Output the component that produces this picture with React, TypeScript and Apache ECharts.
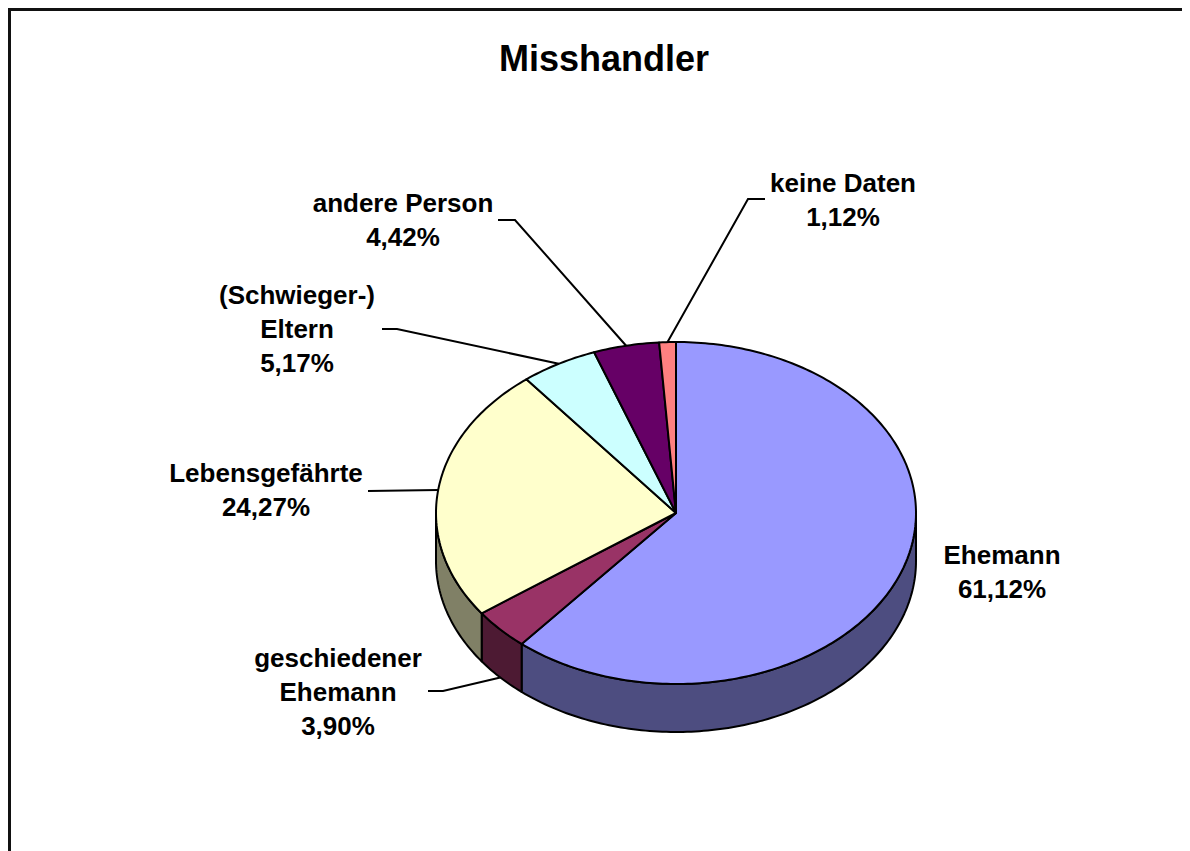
import React, { useEffect, useRef } from "react";
import * as echarts from "echarts";

const chartTitle = "Misshandler";
const categories = [
  "Ehemann",
  "geschiedener\nEhemann",
  "Lebensgefährte",
  "(Schwieger-)\nEltern",
  "andere Person",
  "keine Daten",
];
const values = [61.12, 3.9, 24.27, 5.17, 4.42, 1.12];
const topColors = ["#9999FF", "#993366", "#FFFFCC", "#CCFFFF", "#660066", "#FF8080"];
const sideColors = ["#4D4D80", "#4D1A33", "#808066", "#668080", "#330033", "#804040"];

// layout (chart-local pixels)
const CX = 668;
const CY = 505;
const RX = 240;
const RY = 171;
const DEPTH = 48;
const FONT = '"Liberation Sans", Arial, Helvetica, sans-serif';

// label block centers and leader stub points
const labelLayout: { x: number; y: number; leader: number[][] | null }[] = [
  { x: 994, y: 564, leader: null },
  { x: 330, y: 684, leader: [[420, 683], [435, 683]] },
  { x: 258, y: 482, leader: [[360, 483]] },
  { x: 289, y: 321, leader: [[374, 321], [389, 321]] },
  { x: 395, y: 212, leader: [[490, 212], [507, 212]] },
  { x: 835, y: 192, leader: [[757, 191], [740, 191]] },
];

const total = values.reduce((a, b) => a + b, 0);
const startAngles: number[] = [];
{
  let acc = -90;
  for (const v of values) {
    startAngles.push(acc);
    acc += (v / total) * 360;
  }
}

const rad = (d: number) => (d * Math.PI) / 180;
const pt = (deg: number, dy = 0) => [CX + RX * Math.cos(rad(deg)), CY + RY * Math.sin(rad(deg)) + dy];
const arc = (from: number, to: number, dy = 0) => {
  const pts: number[][] = [];
  const n = Math.max(2, Math.ceil(Math.abs(to - from) / 1));
  for (let k = 0; k <= n; k++) pts.push(pt(from + ((to - from) * k) / n, dy));
  return pts;
};
const fmt = (v: number) => v.toFixed(2).replace(".", ",") + "%";

export default function App() {
  const ref = useRef<HTMLDivElement>(null);
  useEffect(() => {
    document.documentElement.style.overflow = "hidden";
    const chart = echarts.init(ref.current!, undefined, { renderer: "svg" });
    chart.setOption({
      animation: false,
      backgroundColor: "#FFFFFF",
      graphic: [
        {
          type: "rect",
          shape: { x: 1.5, y: 1.5, width: 3000, height: 3000 },
          style: { fill: "none", stroke: "#111111", lineWidth: 3 },
          silent: true,
        },
        {
          type: "text",
          x: 596,
          y: 50,
          style: {
            text: chartTitle,
            align: "center",
            verticalAlign: "middle",
            font: `bold 36px ${FONT}`,
            fill: "#000000",
          },
        },
      ],
      series: [
        {
          type: "custom",
          coordinateSystem: "none",
          data: values.map((v, i) => ({ name: categories[i], value: [v] })),
          renderItem: (params: any, api: any) => {
            const i = params.dataIndex;
            const v = api.value(0);
            const a0 = startAngles[i];
            const a1 = a0 + (v / total) * 360;
            const children: any[] = [];
            const s = Math.max(a0, 0);
            const e = Math.min(a1, 180);
            if (e > s) {
              const sidePts = arc(s, e, 0).concat(arc(e, s, DEPTH));
              children.push({
                type: "polygon",
                z2: 1,
                shape: { points: sidePts },
                style: { fill: sideColors[i], stroke: "#000", lineWidth: 2, lineJoin: "round" },
              });
            }
            children.push({
              type: "polygon",
              z2: 5,
              shape: { points: [[CX, CY]].concat(arc(a0, a1, 0)) },
              style: { fill: topColors[i], stroke: "#000", lineWidth: 2, lineJoin: "round" },
            });
            const lay = labelLayout[i];
            if (lay.leader) {
              const m = (a0 + a1) / 2;
              const anchor = pt(m, Math.sin(rad(m)) > 0 ? DEPTH : 0);
              children.push({
                type: "polyline",
                z2: 8,
                shape: { points: lay.leader.concat([anchor]) },
                style: { fill: null, stroke: "#000", lineWidth: 2 },
              });
            }
            children.push({
              type: "text",
              z2: 10,
              x: lay.x,
              y: lay.y,
              style: {
                text: `${categories[i]}\n${fmt(v)}`,
                align: "center",
                verticalAlign: "middle",
                font: `bold 26px ${FONT}`,
                lineHeight: 34,
                fill: "#000000",
              },
            });
            return { type: "group", children };
          },
        },
      ],
    });
    return () => chart.dispose();
  }, []);
  return <div ref={ref} style={{ width: 1182, height: 843 }} />;
}
